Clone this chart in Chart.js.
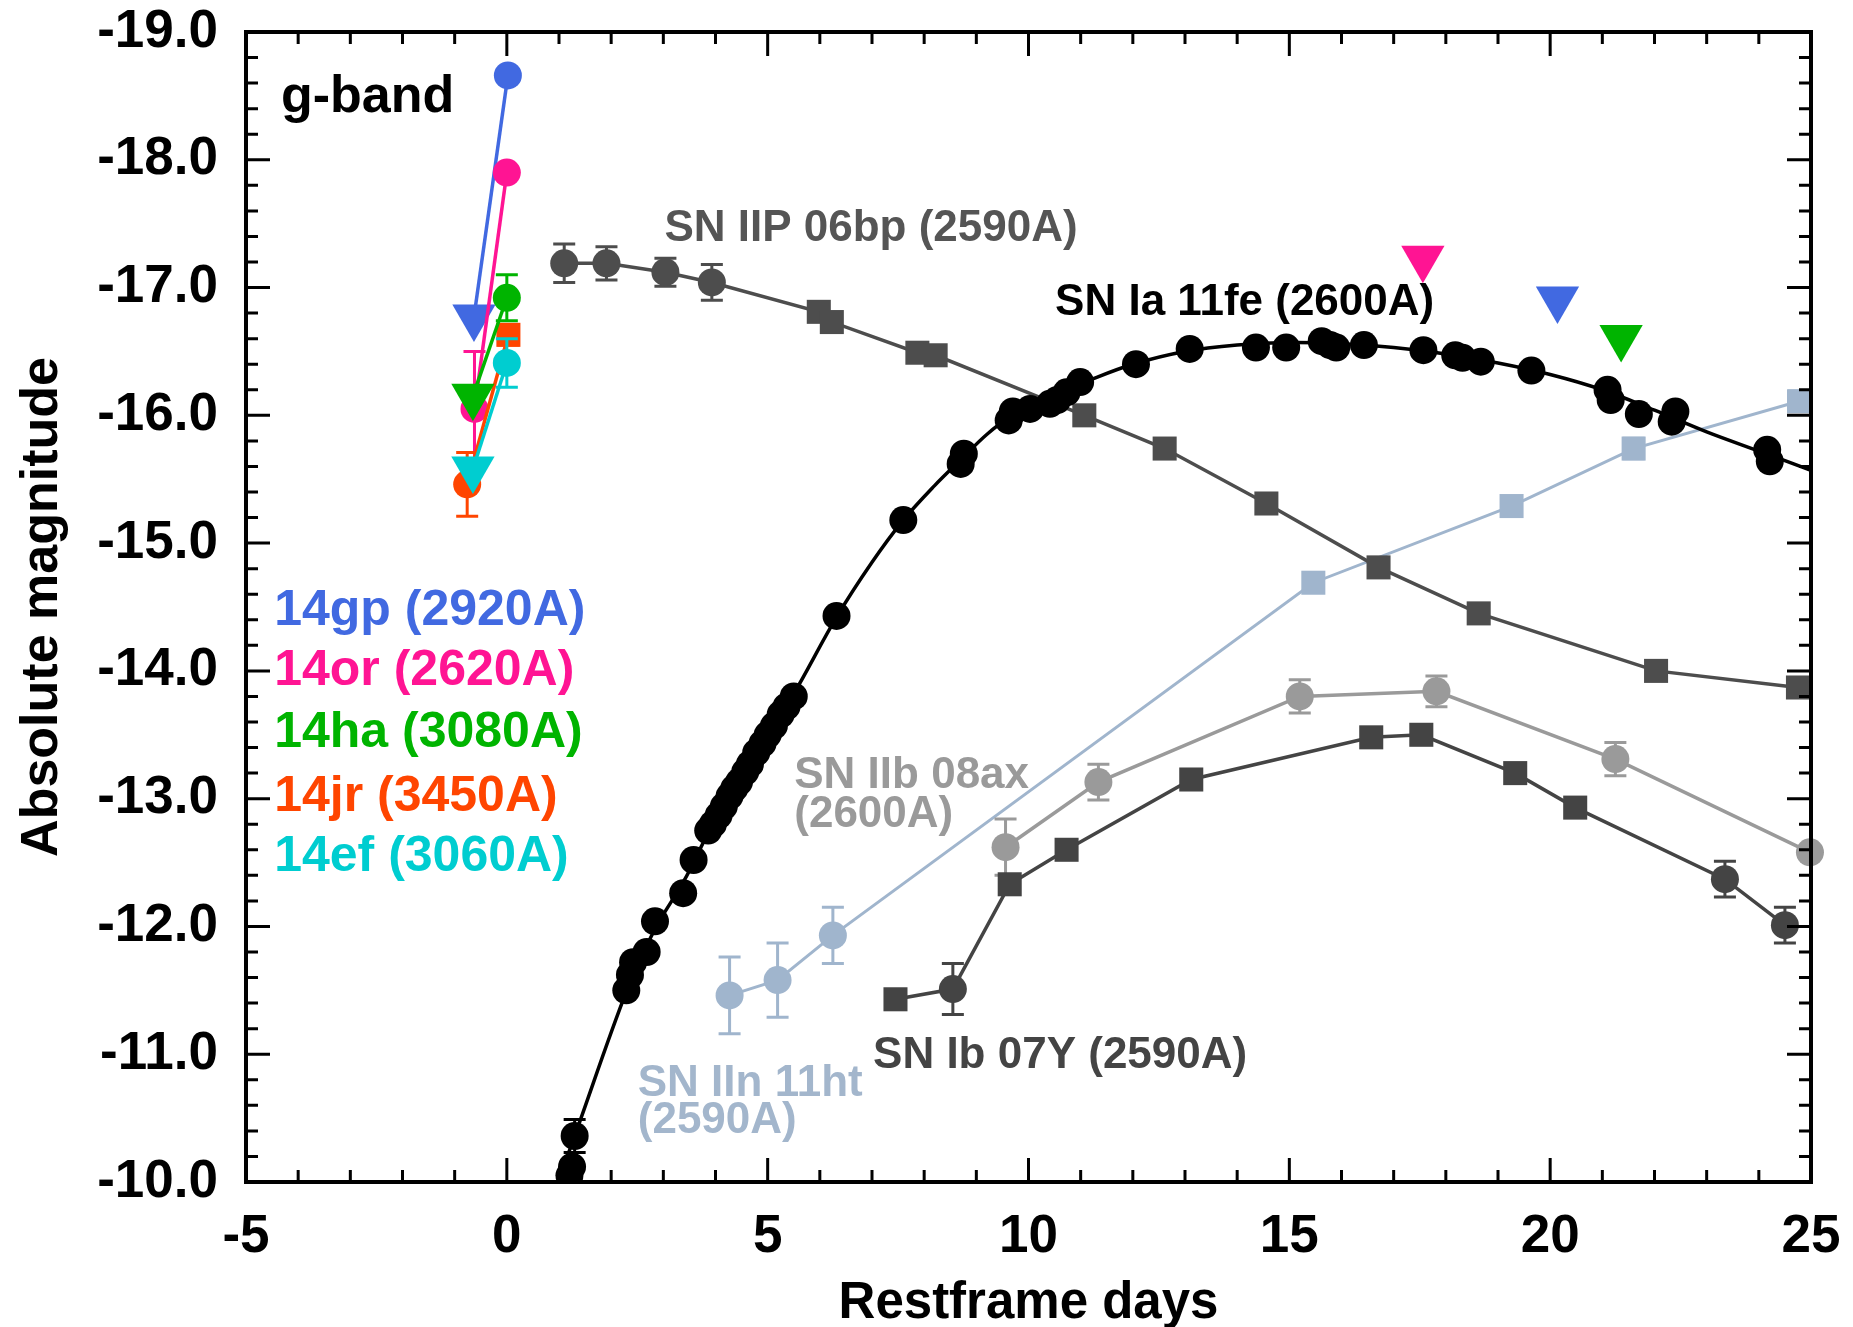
<!DOCTYPE html>
<html>
<head>
<meta charset="utf-8">
<title>g-band early light curves</title>
<script src="https://cdn.jsdelivr.net/npm/chart.js@4.4.1/dist/chart.umd.min.js"></script>
<style>
  html, body { margin: 0; padding: 0; background: #ffffff; }
  canvas { display: block; }
</style>
</head>
<body>
<canvas id="lc" width="1853" height="1327"></canvas>
<script>
// ---------------- data (restframe days, absolute g-band magnitude) ----------------
const dayTicks = [-5, 0, 5, 10, 15, 20, 25];
const magTicks = [-19, -18, -17, -16, -15, -14, -13, -12, -11, -10];

// SN Ia 2011fe (2600A): photometry
const fe11Days = [1.20, 1.25, 1.30, 2.29, 2.36, 2.42, 2.68, 2.84, 3.38, 3.58, 3.86, 3.95, 4.06, 4.16,
  4.27, 4.36, 4.45, 4.57, 4.66, 4.78, 4.90, 5.00, 5.12, 5.25, 5.36, 5.50, 6.32, 7.60, 8.70, 8.76,
  9.62, 9.70, 10.03, 10.41, 10.55, 10.73, 10.99, 12.06, 13.09, 14.36, 14.94, 15.62, 15.78, 15.90,
  16.43, 17.57, 18.18, 18.32, 18.67, 19.64, 21.10, 21.16, 21.70, 22.33, 22.40, 24.16, 24.21];
const fe11Mags = [-10.05, -10.12, -10.36, -11.50, -11.62, -11.72, -11.80, -12.04, -12.26, -12.52, -12.75, -12.80, -12.87, -12.94,
  -13.02, -13.08, -13.13, -13.21, -13.27, -13.36, -13.43, -13.50, -13.57, -13.66, -13.72, -13.80, -14.43, -15.18, -15.62, -15.70,
  -15.96, -16.03, -16.05, -16.09, -16.12, -16.18, -16.26, -16.40, -16.52, -16.53, -16.53, -16.58, -16.55, -16.53,
  -16.55, -16.51, -16.47, -16.45, -16.42, -16.35, -16.20, -16.12, -16.01, -15.95, -16.03, -15.73, -15.64];
const fe11Errs = [0.03, 0.03, 0.13, 0.03, 0.03, 0.03, 0.03, 0.03, 0.03, 0.03, 0.03, 0.03, 0.03, 0.03,
  0.03, 0.03, 0.03, 0.03, 0.03, 0.03, 0.03, 0.03, 0.03, 0.03, 0.03, 0.03, 0.03, 0.03, 0.03, 0.03,
  0.03, 0.03, 0.03, 0.03, 0.03, 0.03, 0.03, 0.03, 0.03, 0.03, 0.03, 0.03, 0.03, 0.03,
  0.03, 0.03, 0.03, 0.03, 0.03, 0.03, 0.03, 0.03, 0.03, 0.03, 0.03, 0.03, 0.03];
// SN Ia 2011fe: smooth light-curve template
const fe11CurveDays = [0.98, 1.30, 2.30, 2.84, 3.40, 3.90, 4.50, 5.00, 5.50, 6.32, 7.00, 7.60, 8.20, 8.72,
  9.20, 9.66, 10.20, 10.70, 11.20, 12.00, 13.00, 14.00, 15.00, 16.00, 17.00, 18.00, 19.00, 20.00,
  21.00, 22.00, 23.00, 24.00, 25.00];
const fe11CurveMags = [-10.00, -10.36, -11.50, -11.98, -12.36, -12.76, -13.15, -13.50, -13.82, -14.42, -14.85, -15.18, -15.45, -15.66,
  -15.85, -15.99, -16.10, -16.19, -16.28, -16.40, -16.50, -16.55, -16.57, -16.56, -16.53, -16.48, -16.41, -16.32,
  -16.20, -16.04, -15.87, -15.72, -15.57];

// SN IIP 2006bp (2590A)
const bp06Days = [1.10, 1.91, 3.04, 3.93, 5.98, 6.23, 7.87, 8.22, 11.07, 12.61, 14.56, 16.71, 18.63, 22.03, 24.75];
const bp06Mags = [-17.19, -17.19, -17.12, -17.04, -16.81, -16.73, -16.49, -16.47, -16.00, -15.74, -15.31, -14.81, -14.45, -14.00, -13.87];
const bp06Errs = [0.15, 0.13, 0.11, 0.14, 0.03, 0.03, 0.03, 0.03, 0.03, 0.03, 0.03, 0.03, 0.03, 0.03, 0.07];

// SN Ib 2007Y (2590A)
const y07Days = [7.45, 8.55, 9.64, 10.73, 13.12, 16.57, 17.53, 19.33, 20.48, 23.35, 24.50];
const y07Mags = [-11.43, -11.51, -12.33, -12.60, -13.15, -13.48, -13.50, -13.20, -12.93, -12.37, -12.01];
const y07Errs = [0.07, 0.20, 0.06, 0.04, 0.04, 0.04, 0.04, 0.04, 0.04, 0.14, 0.14];

// SN IIb 2008ax (2600A)
const ax08Days = [9.56, 11.34, 15.20, 17.82, 21.25, 24.98];
const ax08Mags = [-12.62, -13.13, -13.80, -13.84, -13.31, -12.58];
const ax08Errs = [0.22, 0.14, 0.13, 0.12, 0.13, 0.05];

// SN IIn 2011ht (2590A)
const ht11Days = [4.27, 5.19, 6.25, 15.46, 19.26, 21.60, 24.77];
const ht11Mags = [-11.46, -11.58, -11.93, -14.69, -15.29, -15.74, -16.11];
const ht11Errs = [0.30, 0.29, 0.22, 0.06, 0.05, 0.08, 0.08];

// early transients: a null error marks an upper limit
const gp14Days = [-0.63, 0.02];
const gp14Mags = [-16.77, -18.66];
const gp14Errs = [null, 0.04];
const or14Days = [-0.62, 0.00];
const or14Mags = [-16.05, -17.90];
const or14Errs = [0.45, 0.05];
const ha14Days = [-0.65, 0.00];
const ha14Mags = [-16.15, -16.92];
const ha14Errs = [null, 0.18];
const jr14Days = [-0.76, 0.03];
const jr14Mags = [-15.46, -16.63];
const jr14Errs = [0.25, 0.08];
const ef14Days = [-0.65, 0.00];
const ef14Mags = [-15.58, -16.41];
const ef14Errs = [null, 0.19];

// later non-detections (upper limits) for 14or, 14gp, 14ha
const limitDays = [17.56, 20.14, 21.36];
const limitMags = [-17.23, -16.91, -16.61];

// ---------------- drawing ----------------
const FONT = '"Liberation Sans", Arial, Helvetica, sans-serif';

const C = {
  gp: '#4169e1', or: '#ff1493', ha: '#00b400', jr: '#ff4500', ef: '#00cdd0',
  fe: '#000000', bp: '#4d4d4d', y07: '#444444', ax: '#9a9a9a', ht: '#a0b5cd'
};

function pts(days, mags) {
  return days.map((d, i) => ({ x: d, y: mags[i] }));
}

// marker shape follows the measurement: limits are down triangles,
// uncertain points are circles, precise ones are squares
function shapeOf(err) {
  if (err === null) return 'triangle';
  return err >= 0.1 ? 'circle' : 'rect';
}
// the early transients: limits are triangles, detections circles
function limitOrCircle(err) {
  return err === null ? 'triangle' : 'circle';
}
function radiusOf(shape) {
  return shape === 'triangle' ? 25 : shape === 'rect' ? 17 : 14;
}

function series(label, days, mags, errs, color, opts) {
  const o = opts || {};
  const rule = o.rule || shapeOf;
  const shape = (c) => o.shape || rule(errs[c.dataIndex]);
  return Object.assign({
    label: label,
    data: pts(days, mags),
    errors: errs,
    showLine: true,
    borderColor: color,
    backgroundColor: color,
    pointBackgroundColor: color,
    pointBorderWidth: 0,
    borderWidth: 3.5,
    tension: 0,
    pointStyle: shape,
    pointRadius: (c) => radiusOf(shape(c)),
    rotation: (c) => shape(c) === 'triangle' ? 180 : 0
  }, o.extra || {});
}

const datasets = [
  series('SN IIn 11ht', ht11Days, ht11Mags, ht11Errs, C.ht, { extra: { order: 60, borderWidth: 3 } }),
  series('SN IIb 08ax', ax08Days, ax08Mags, ax08Errs, C.ax, { shape: 'circle', extra: { order: 50, clip: false } }),
  series('SN Ib 07Y', y07Days, y07Mags, y07Errs, C.y07, { extra: { order: 40 } }),
  series('SN IIP 06bp', bp06Days, bp06Mags, bp06Errs, C.bp, { extra: { order: 30, borderWidth: 3.5 } }),
  {
    label: 'SN Ia 11fe template',
    data: pts(fe11CurveDays, fe11CurveMags),
    showLine: true,
    borderColor: C.fe,
    borderWidth: 3.5,
    tension: 0.35,
    pointRadius: 0,
    order: 21
  },
  series('SN Ia 11fe', fe11Days, fe11Mags, fe11Errs, C.fe, { shape: 'circle', extra: { order: 20, showLine: false } }),
  series('14gp', gp14Days, gp14Mags, gp14Errs, C.gp, { rule: limitOrCircle, extra: { order: 5 } }),
  series('14or', or14Days, or14Mags, or14Errs, C.or, { rule: limitOrCircle, extra: { order: 4 } }),
  series('14jr', jr14Days, jr14Mags, jr14Errs, C.jr, { extra: { order: 3 } }),
  series('14ha', ha14Days, ha14Mags, ha14Errs, C.ha, { rule: limitOrCircle, extra: { order: 2 } }),
  series('14ef', ef14Days, ef14Mags, ef14Errs, C.ef, { rule: limitOrCircle, extra: { order: 1 } }),
  series('14or limit', [limitDays[0]], [limitMags[0]], [null], C.or, { extra: { order: 1, showLine: false } }),
  series('14gp limit', [limitDays[1]], [limitMags[1]], [null], C.gp, { extra: { order: 1, showLine: false } }),
  series('14ha limit', [limitDays[2]], [limitMags[2]], [null], C.ha, { extra: { order: 1, showLine: false } })
];

// text placed in data coordinates
const labels = [
  { text: 'g-band', x: -4.33, y: -18.49, color: '#000000', size: 52 },
  { text: '14gp (2920A)', x: -4.46, y: -14.47, color: C.gp, size: 50 },
  { text: '14or (2620A)', x: -4.46, y: -14.00, color: C.or, size: 50 },
  { text: '14ha (3080A)', x: -4.46, y: -13.51, color: C.ha, size: 50 },
  { text: '14jr (3450A)', x: -4.46, y: -13.01, color: C.jr, size: 50 },
  { text: '14ef (3060A)', x: -4.46, y: -12.54, color: C.ef, size: 50 },
  { text: 'SN IIP 06bp (2590A)', x: 3.02, y: -17.46, color: '#555555', size: 44 },
  { text: 'SN Ia 11fe (2600A)', x: 10.51, y: -16.88, color: '#000000', size: 44 },
  { text: 'SN IIb 08ax', x: 5.51, y: -13.18, color: '#9a9a9a', size: 44 },
  { text: '(2600A)', x: 5.51, y: -12.87, color: '#9a9a9a', size: 44 },
  { text: 'SN IIn 11ht', x: 2.51, y: -10.77, color: '#a3b6cc', size: 44 },
  { text: '(2590A)', x: 2.51, y: -10.48, color: '#a3b6cc', size: 44 },
  { text: 'SN Ib 07Y (2590A)', x: 7.02, y: -10.99, color: '#444444', size: 44 }
];

const whiteBackground = {
  id: 'whiteBackground',
  beforeDraw(chart) {
    const ctx = chart.ctx;
    ctx.save();
    ctx.fillStyle = '#ffffff';
    ctx.fillRect(0, 0, chart.width, chart.height);
    ctx.restore();
  }
};

const textLabels = {
  id: 'textLabels',
  beforeDatasetsDraw(chart) {
    const { ctx, scales: { x, y } } = chart;
    ctx.save();
    ctx.textAlign = 'left';
    ctx.textBaseline = 'middle';
    labels.forEach(l => {
      ctx.font = 'bold ' + l.size + 'px ' + FONT;
      ctx.fillStyle = l.color;
      ctx.fillText(l.text, x.getPixelForValue(l.x), y.getPixelForValue(l.y));
    });
    ctx.restore();
  }
};

const errorBars = {
  id: 'errorBars',
  beforeDatasetDraw(chart, args) {
    const ds = chart.data.datasets[args.index];
    if (!ds.errors) return;
    const { ctx, chartArea: a, scales: { x, y } } = chart;
    ctx.save();
    ctx.beginPath();
    ctx.rect(a.left, a.top, a.right - a.left, a.bottom - a.top);
    ctx.clip();
    ctx.strokeStyle = ds.borderColor;
    ctx.lineWidth = 3;
    ds.data.forEach((p, i) => {
      const e = ds.errors[i];
      if (e === null || e === undefined) return;
      const px = x.getPixelForValue(p.x);
      const y1 = y.getPixelForValue(p.y - e);
      const y2 = y.getPixelForValue(p.y + e);
      ctx.beginPath();
      ctx.moveTo(px, y1); ctx.lineTo(px, y2);
      ctx.moveTo(px - 11, y1); ctx.lineTo(px + 11, y1);
      ctx.moveTo(px - 11, y2); ctx.lineTo(px + 11, y2);
      ctx.stroke();
    });
    ctx.restore();
  }
};

// inward ticks on all four sides plus the frame
const frameTicks = {
  id: 'frameTicks',
  afterDatasetsDraw(chart) {
    const { ctx, chartArea: a, scales: { x, y } } = chart;
    ctx.save();
    ctx.strokeStyle = '#000000';
    ctx.lineWidth = 3;
    ctx.beginPath();
    for (let d = -5; d <= 25; d++) {
      const px = x.getPixelForValue(d);
      const len = d % 5 === 0 ? 24 : 12;
      ctx.moveTo(px, a.bottom); ctx.lineTo(px, a.bottom - len);
      ctx.moveTo(px, a.top); ctx.lineTo(px, a.top + len);
    }
    for (let k = 0; k <= 45; k++) {
      const py = y.getPixelForValue(-19 + k * 0.2);
      const len = k % 5 === 0 ? 24 : 12;
      ctx.moveTo(a.left, py); ctx.lineTo(a.left + len, py);
      ctx.moveTo(a.right, py); ctx.lineTo(a.right - len, py);
    }
    ctx.stroke();
    ctx.lineWidth = 4;
    ctx.strokeRect(a.left, a.top, a.right - a.left, a.bottom - a.top);
    ctx.restore();
  }
};

new Chart(document.getElementById('lc'), {
  type: 'scatter',
  data: { datasets: datasets },
  options: {
    responsive: false,
    animation: false,
    devicePixelRatio: 1,
    events: [],
    layout: { padding: { left: 0, right: 42, top: 32, bottom: 0 } },
    plugins: { legend: { display: false }, tooltip: { enabled: false } },
    scales: {
      x: {
        type: 'linear',
        min: -5, max: 25,
        grid: { display: false },
        border: { display: false },
        afterBuildTicks: (s) => { s.ticks = dayTicks.map(v => ({ value: v })); },
        afterFit: (s) => { s.height = 145; s.paddingLeft = 0; s.paddingRight = 0; },
        ticks: {
          padding: 16,
          color: '#000000',
          font: { family: FONT, size: 53, weight: 'bold' },
          callback: (v) => String(v)
        },
        title: {
          display: true,
          text: 'Restframe days',
          color: '#000000',
          font: { family: FONT, size: 51, weight: 'bold', lineHeight: 0.9 },
          padding: { top: 0, bottom: 0 }
        }
      },
      y: {
        type: 'linear',
        min: -19, max: -10,
        reverse: true,
        grid: { display: false },
        border: { display: false },
        afterBuildTicks: (s) => { s.ticks = magTicks.map(v => ({ value: v })); },
        afterFit: (s) => { s.width = 246; s.paddingTop = 0; s.paddingBottom = 0; },
        ticks: {
          padding: 20,
          color: '#000000',
          font: { family: FONT, size: 53, weight: 'bold' },
          callback: (v) => Number(v).toFixed(1)
        },
        title: {
          display: true,
          text: 'Absolute magnitude',
          color: '#000000',
          font: { family: FONT, size: 52, weight: 'bold', lineHeight: 1 },
          padding: { top: 17, bottom: 0 }
        }
      }
    }
  },
  plugins: [whiteBackground, textLabels, errorBars, frameTicks]
});
</script>
</body>
</html>
